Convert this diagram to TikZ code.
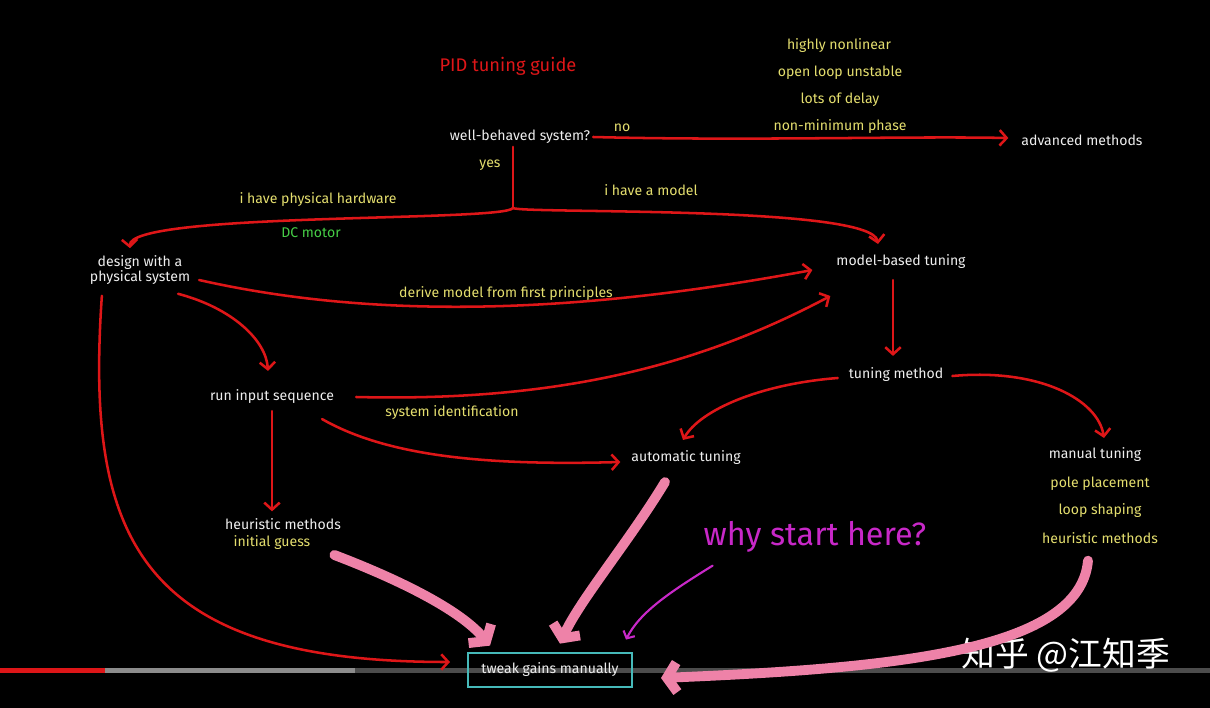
\documentclass[tikz,border=0pt]{standalone}
\usepackage{fontspec}
\setmainfont{Fira Sans}
\newfontfamily\cjkfont{Noto Sans CJK SC}
\usetikzlibrary{arrows.meta,calc}
\definecolor{inkred}{RGB}{222,22,24}
\definecolor{chalkyellow}{RGB}{228,222,110}
\definecolor{chalkwhite}{RGB}{238,238,238}
\definecolor{chalkgreen}{RGB}{70,205,70}
\definecolor{markerpink}{RGB}{238,130,168}
\definecolor{markerpurple}{RGB}{200,40,200}
\definecolor{boxcyan}{RGB}{70,185,185}

\begin{document}
\begin{tikzpicture}[x=0.025cm,y=-0.025cm,
  every node/.style={font=\fontsize{10}{12}\selectfont, inner sep=2pt},
  box/.style={text=chalkwhite},
  note/.style={text=chalkyellow},
  flow/.style={draw=inkred, line width=1.8pt, line cap=round, -{Straight Barb[length=5pt,width=11pt]}},
  marker/.style={draw=markerpink, line width=7pt, line cap=round, -{Straight Barb[length=7pt,width=21pt]}}]
  \fill[black] (0,0) rectangle (1210,708);
  % progress bar
  \fill[black!70!white] (355,668) rectangle (1210,673);
  \fill[black!45!white] (105,668) rectangle (355,673);
  \fill[inkred] (0,668) rectangle (105,673);

  \node[text=inkred, font=\fontsize{13}{15}\selectfont] (title) at (508,66) {PID tuning guide};
  \node[note] (nl) at (839,46) {highly nonlinear};
  \node[note] (ol) at (840,73) {open loop unstable};
  \node[note] (dl) at (840,100) {lots of delay};
  \node[note] (nm) at (840,127) {non-minimum phase};
  \node[box] (q) at (520,137) {well-behaved system?};
  \node[box] (adv) at (1082,140) {advanced methods};
  \node[note] (no) at (622,128) {no};
  \node[note] (yes) at (490,165) {yes};
  \node[note] (hw) at (318,200) {i have physical hardware};
  \node[text=chalkgreen] (dc) at (311,233) {DC motor};
  \node[note] (model) at (651,190) {i have a model};
  \node[box, align=center, font=\fontsize{10}{11}\selectfont] (design) at (140,270) {design with a\\physical system};
  \node[box] (mbt) at (901,262) {model-based tuning};
  \node[note] (derive) at (506,294) {derive model from first principles};
  \node[box] (run) at (272,397) {run input sequence};
  \node[note] (sysid) at (452,413) {system identification};
  \node[box] (tm) at (896,375) {tuning method};
  \node[box] (auto) at (686,458) {automatic tuning};
  \node[box] (man) at (1095,455) {manual tuning};
  \node[note] (pole) at (1100,484) {pole placement};
  \node[note] (loop) at (1100,511) {loop shaping};
  \node[note] (heurb) at (1100,538) {heuristic methods};
  \node[box] (heur) at (283,524) {heuristic methods};
  \node[note] (guess) at (272,543) {initial guess};
  \node[text=markerpurple, font=\fontsize{23}{26}\selectfont] (why) at (815,537) {why start here?};
  \node[box, draw=boxcyan, line width=1.4pt, minimum width=4.1cm, minimum height=0.87cm, font=\fontsize{10}{12}\selectfont] (tweak) at (550,670) {tweak gains manually};
  \node[text=white, font=\cjkfont\fontsize{24}{28}\selectfont] (mark) at (1066,655) {知乎 @江知季};

  % decision
  \coordinate (split) at (513,208);
  \draw[flow] (q.east) .. controls (750,141) and (900,136) .. ($(adv.west)+(-10,-2)$);
  \draw[draw=inkred, line width=1.8pt, line cap=round] (split |- q.south) -- (split);
  \draw[flow] (split) .. controls (505,222) and (128,212) .. ($(design.north)+(-10,-4)$);
  \draw[flow] (split) .. controls (522,214) and (872,205) .. ($(mbt.north)+(-23,-8)$);
  % from the hardware
  \draw[flow] ($(design.east)+(6,10)$) .. controls (420,330) and (650,300) .. ($(mbt.west)+(-21,8)$);
  \draw[flow] ($(design.south east)+(-15,6)$) .. controls (232,308) and (266,340) .. ($(run.north)+(-4,-16)$);
  \draw[flow] ($(run.east)+(19,0)$) .. controls (560,402) and (700,365) .. ($(mbt.west)+(-3,34)$);
  \draw[flow] ($(run.south east)+(-15,12)$) .. controls (385,455) and (480,466) .. ($(auto.west)+(-8,4)$);
  \draw[flow] ($(run.south)+(0,4)$) -- ($(run.south |- heur.north)+(0,-4)$);
  \draw[flow] ($(design.south west)+(15,8)$) .. controls (85,540) and (140,662) .. ($(tweak.west)+(-17,-8)$);
  % model side
  \draw[flow] ($(mbt.south)+(-8,8)$) -- ($(tm.north)+(-3,-9)$);
  \draw[flow] ($(tm.west)+(-8,3)$) .. controls (760,384) and (700,410) .. ($(auto.north)+(-3,-8)$);
  \draw[flow] ($(tm.east)+(6,1)$) .. controls (1040,368) and (1098,400) .. ($(man.north)+(9,-7)$);
  % markers
  \draw[marker] ($(guess.east)+(21,12)$) .. controls (400,580) and (460,610) .. ($(tweak.north west)+(23,-6)$);
  \draw[marker] ($(auto.south)+(-21,14)$) .. controls (630,540) and (580,600) .. ($(tweak.north)+(10,-8)$);
  \draw[marker] ($(heurb.south)+(-12,14)$) .. controls (1080,650) and (900,668) .. ($(tweak.east)+(28,8)$);
  \draw[draw=markerpurple, line width=1.5pt, line cap=round, -{Straight Barb[length=4pt,width=9pt]}] ($(why.south west)+(12,10)$) .. controls (670,592) and (640,612) .. ($(tweak.north east)+(-7,-12)$);
\end{tikzpicture}
\end{document}
